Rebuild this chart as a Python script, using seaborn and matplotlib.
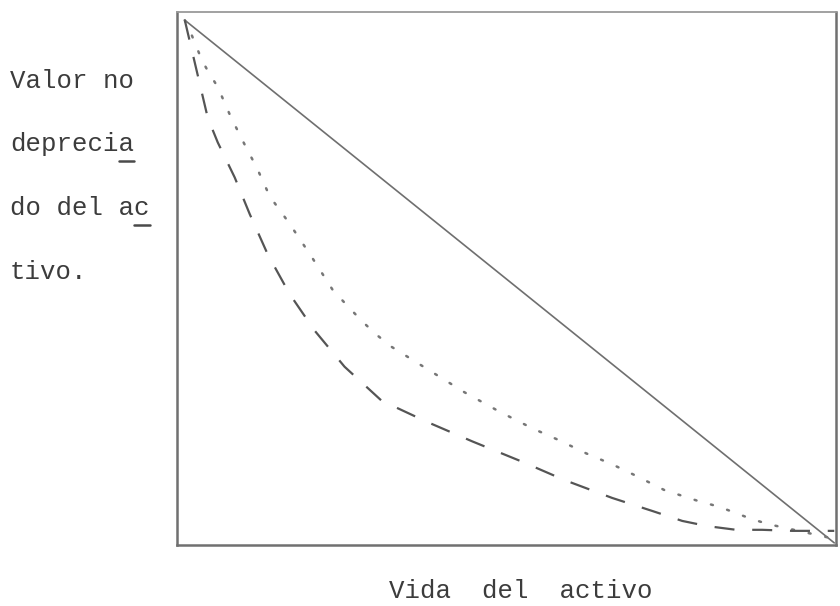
import matplotlib
matplotlib.use("Agg")
import matplotlib.pyplot as plt
from matplotlib.lines import Line2D
import seaborn as sns
import pandas as pd

# Vida del activo (años) y valor no depreciado (fracción del costo)
linea_x = [0.0, 10.0]
linea_y = [1.0, 0.0]

punteada_x = [0.0, 0.108, 0.262, 0.354, 0.508, 0.708, 0.954, 1.108, 1.308, 1.6,
              1.954, 2.277, 2.523, 2.738, 2.954, 3.185, 4.308, 4.846, 5.354,
              5.77, 6.185, 6.585, 6.954, 7.385, 7.908, 8.23, 8.72, 8.98, 9.92, 10.0]
punteada_y = [1.0, 0.971, 0.924, 0.903, 0.872, 0.815, 0.754, 0.718, 0.663, 0.613,
              0.547, 0.484, 0.451, 0.423, 0.398, 0.375, 0.288, 0.251, 0.219,
              0.196, 0.171, 0.15, 0.128, 0.101, 0.08, 0.069, 0.046, 0.036, 0.01, 0.0]

guiones_x = [0.0, 0.354, 0.508, 0.769, 1.0, 1.277, 1.615, 2.0, 2.46, 3.03, 3.72,
             4.43, 5.18, 5.85, 6.58, 7.2, 7.66, 8.05, 8.49, 8.89, 9.35, 9.88, 10.0]
guiones_y = [1.0, 0.813, 0.766, 0.699, 0.629, 0.552, 0.476, 0.406, 0.337, 0.272,
             0.232, 0.194, 0.156, 0.12, 0.086, 0.061, 0.042, 0.032, 0.025, 0.025,
             0.023, 0.023, 0.023]

# rótulo vertical partido en líneas; 1 = última letra subrayada
etiqueta_y = ["Valor no", "deprecia", "do del ac", "tivo."]
subrayado = [0, 1, 1, 0]
etiqueta_x = "Vida  del  activo"

sns.set_style("white")
plt.rcParams["font.family"] = ["Liberation Mono", "DejaVu Sans Mono"]
FS = 18.5
TINTA = "#3c3c3c"

fig = plt.figure(figsize=(8.4, 6.06), dpi=100)
ax = fig.add_axes([0.2107, 0.1007, 0.784, 0.879])

df_linea = pd.DataFrame({"x": linea_x, "y": linea_y})
df_punt = pd.DataFrame({"x": punteada_x, "y": punteada_y})
df_guion = pd.DataFrame({"x": guiones_x, "y": guiones_y})

sns.lineplot(data=df_linea, x="x", y="y", ax=ax, color="#6f6f6f", lw=1.2,
             estimator=None)
sns.lineplot(data=df_punt, x="x", y="y", ax=ax, color="#777777", lw=1.8,
             linestyle=(0, (0.8, 6)), dash_capstyle="round", estimator=None)
sns.lineplot(data=df_guion, x="x", y="y", ax=ax, color="#555555", lw=1.6,
             linestyle=(0, (9, 8)), estimator=None)

ax.set_xlim(-0.12, 10.02)
ax.set_ylim(-0.004, 1.015)
ax.set_xticks([])
ax.set_yticks([])
ax.set_xlabel("")
ax.set_ylabel("")
for lado, sp in ax.spines.items():
    sp.set_visible(True)
    sp.set_color("#707070")
    sp.set_linewidth(1.8)
ax.spines["top"].set_color("#9a9a9a")
ax.spines["top"].set_linewidth(1.3)

W, H = 840, 606
bases = [88, 151, 215, 279]
textos = []
for txt, yb in zip(etiqueta_y, bases):
    t = fig.text(10 / W, (H - yb) / H, txt, fontsize=FS, color=TINTA,
                 ha="left", va="baseline")
    textos.append(t)

fig.text(521 / W, (H - 598) / H, etiqueta_x, fontsize=FS,
         color=TINTA, ha="center", va="baseline")

# subrayado de máquina de escribir bajo la última letra
fig.canvas.draw()
r = fig.canvas.get_renderer()
for t, txt, sub, yb in zip(textos, etiqueta_y, subrayado, bases):
    if not sub:
        continue
    x_ini = t.get_position()[0] * W
    prefijo = fig.text(0, 0, txt[:-1], fontsize=FS)
    w_pre = prefijo.get_window_extent(r).width
    prefijo.remove()
    w_tot = t.get_window_extent(r).width
    yl = H - (yb + 10)
    fig.add_artist(Line2D([(x_ini + w_pre) / W, (x_ini + w_tot) / W],
                          [yl / H, yl / H], color="#4a4a4a", lw=1.8,
                          transform=fig.transFigure))

fig.savefig("out.png", dpi=100, facecolor="white")
